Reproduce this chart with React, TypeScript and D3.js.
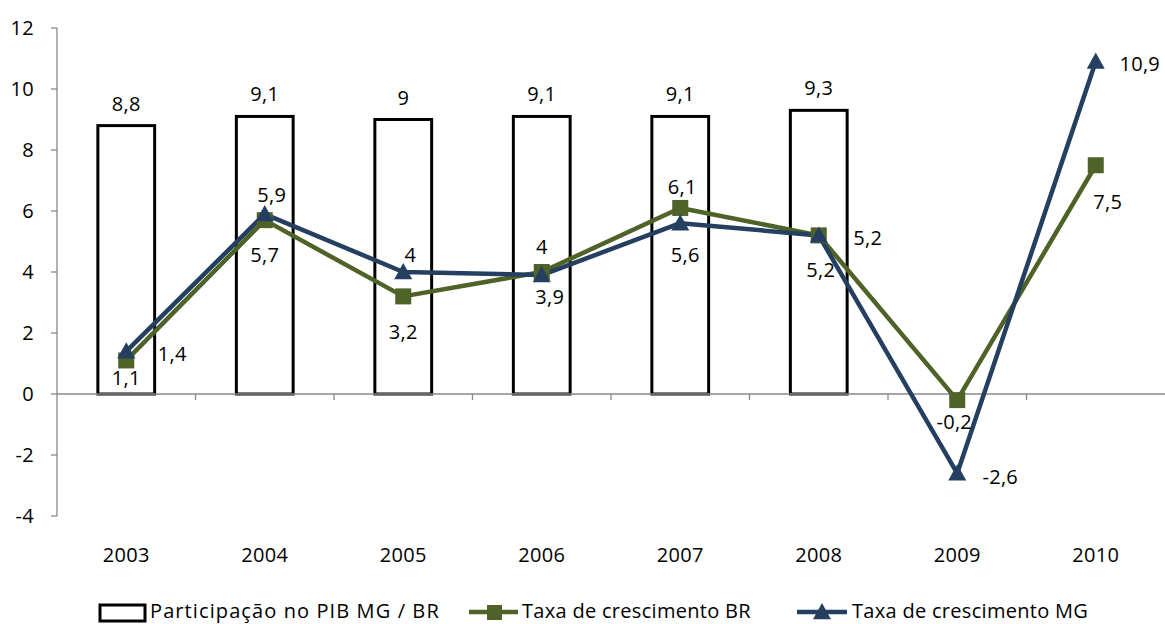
import React from "react";
import * as d3 from "d3";

const years = ["2003", "2004", "2005", "2006", "2007", "2008", "2009", "2010"];
const participacao = [8.8, 9.1, 9.0, 9.1, 9.1, 9.3, null, null];
const taxaBR = [1.1, 5.7, 3.2, 4.0, 6.1, 5.2, -0.2, 7.5];
const taxaMG = [1.4, 5.9, 4.0, 3.9, 5.6, 5.2, -2.6, 10.9];
const yTicks = [-4, -2, 0, 2, 4, 6, 8, 10, 12];

// label placements (style): dx, dy of label centre relative to point
const brPos: [number, number][] = [
  [0, 18], [0, 35], [0, 36], [0, -25], [2, -21], [49, 3], [-3, 22], [12, 37],
];
const mgPos: [number, number][] = [
  [46, 3], [7, -19], [7, -17], [8, 22], [5, 32], [2, 35], [43, 4], [44, 2],
];

const fmt = (v: number) => String(v).replace(".", ",");

const W = 1165, H = 624;
const left = 57, right = 1165, top = 28, bottom = 516;
const FONT = "'Open Sans', 'Noto Sans', sans-serif";
const FS = 20;
const LS = 0.3;
const GREEN = "#4F6228";
const BLUE = "#243F60";

export default function App() {
  const x = d3.scaleBand<string>().domain(years).range([left, right]).padding(0);
  const y = d3.scaleLinear().domain([-4, 12]).range([bottom, top]);
  const cx = (d: string) => (x(d) as number) + x.bandwidth() / 2;
  const bw = x.bandwidth() * 0.41;

  const line = d3.line<number>().x((_, i) => cx(years[i])).y((v) => y(v));

  const tri = (px: number, py: number, s = 9) =>
    `M${px},${py - s} L${px + s},${py + s * 0.8} L${px - s},${py + s * 0.8} Z`;

  const T = (props: any) => (
    <text fontSize={FS} letterSpacing={LS} dy="0.35em" fill="#000" {...props} />
  );

  return (
    <svg width={W} height={H} style={{ position: "absolute", left: 0, top: 0, fontFamily: FONT }}>
      <rect width={W} height={H} fill="#fff" />
      {/* y axis */}
      <line x1={left} x2={left} y1={top} y2={bottom} stroke="#888" strokeWidth={1.3} />
      {yTicks.map((t) => (
        <g key={t}>
          <line x1={left - 6} x2={left} y1={y(t)} y2={y(t)} stroke="#888" strokeWidth={1.3} />
          <T x={34} y={y(t)} textAnchor="end">{t}</T>
        </g>
      ))}
      {/* bars */}
      {participacao.map((v, i) =>
        v == null ? null : (
          <g key={"b" + i}>
            <rect x={cx(years[i]) - bw / 2} y={y(v)} width={bw} height={y(0) - y(v)} fill="#fff" stroke="#000" strokeWidth={3} />
            <T x={cx(years[i])} y={y(v) - 22} textAnchor="middle">{fmt(v)}</T>
          </g>
        )
      )}
      {/* x axis */}
      <line x1={left} x2={right} y1={y(0)} y2={y(0)} stroke="#888" strokeWidth={1.3} />
      {years.map((yr, i) => (
        <g key={yr}>
          {i > 0 && <line x1={x(yr)} x2={x(yr)} y1={y(0)} y2={y(0) + 6} stroke="#888" strokeWidth={1.3} />}
          <T x={cx(yr)} y={555} textAnchor="middle">{yr}</T>
        </g>
      ))}
      {/* lines */}
      <path d={line(taxaBR) || ""} fill="none" stroke={GREEN} strokeWidth={4.5} strokeLinejoin="round" />
      <path d={line(taxaMG) || ""} fill="none" stroke={BLUE} strokeWidth={4.5} strokeLinejoin="round" />
      {taxaBR.map((v, i) => (
        <rect key={"sq" + i} x={cx(years[i]) - 8} y={y(v) - 8} width={16} height={16} fill={GREEN} />
      ))}
      {taxaMG.map((v, i) => (
        <path key={"tr" + i} d={tri(cx(years[i]), y(v))} fill={BLUE} />
      ))}
      {taxaBR.map((v, i) => (
        <T key={"lb" + i} x={cx(years[i]) + brPos[i][0]} y={y(v) + brPos[i][1]} textAnchor="middle">{fmt(v)}</T>
      ))}
      {taxaMG.map((v, i) => (
        <T key={"lm" + i} x={cx(years[i]) + mgPos[i][0]} y={y(v) + mgPos[i][1]} textAnchor="middle">{fmt(v)}</T>
      ))}
      {/* legend */}
      <g>
        <rect x={100} y={605} width={45} height={16} fill="#fff" stroke="#000" strokeWidth={3} />
        <T x={150} y={611} letterSpacing={1.1}>Participação no PIB MG / BR</T>
        <line x1={469} x2={518} y1={612} y2={612} stroke={GREEN} strokeWidth={4.5} />
        <rect x={487} y={605} width={15} height={15} fill={GREEN} />
        <T x={522} y={611}>Taxa de crescimento BR</T>
        <line x1={797} x2={847} y1={612} y2={612} stroke={BLUE} strokeWidth={4.5} />
        <path d={tri(822, 612)} fill={BLUE} />
        <T x={852} y={611}>Taxa de crescimento MG</T>
      </g>
    </svg>
  );
}
